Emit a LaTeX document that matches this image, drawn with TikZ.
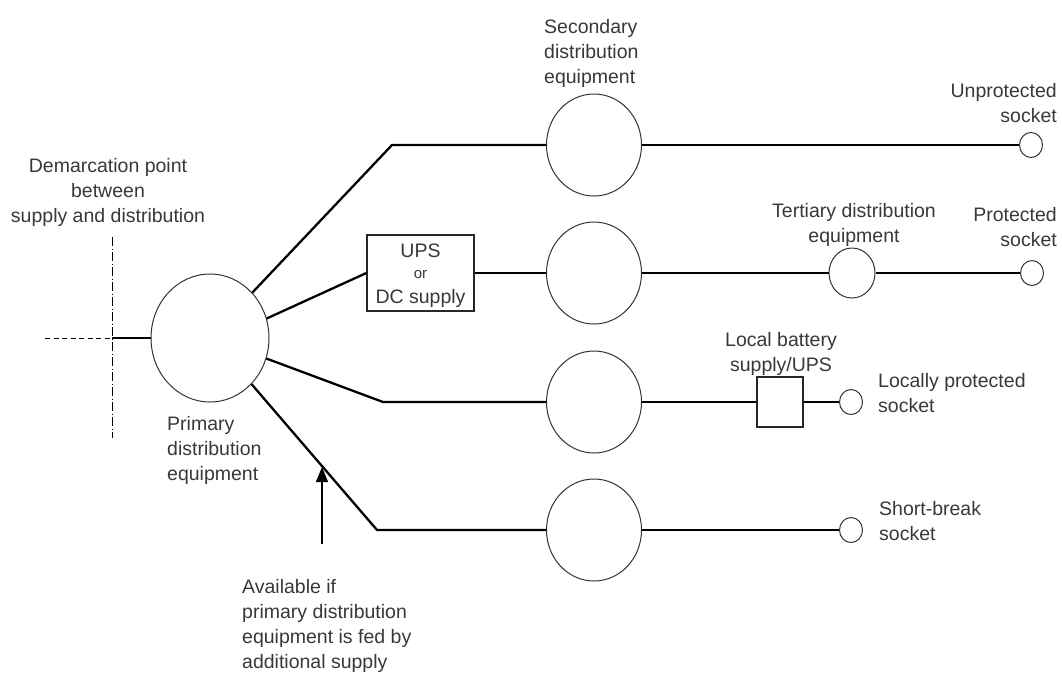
\documentclass[tikz,border=0pt]{standalone}
\usepackage{fontspec}
\setmainfont{Liberation Sans}
\usepackage{tikz}
\usetikzlibrary{shapes.geometric,arrows.meta}
\tikzstyle{wire} = [line width=2.3pt]
\tikzstyle{equip} = [draw=black!80, line width=1pt, ellipse, inner sep=0pt]
\tikzstyle{socket} = [draw=black!80, line width=1pt, ellipse, inner sep=0pt, minimum width=23pt, minimum height=25pt]
\tikzstyle{unit} = [draw=black!85, line width=1.2pt, rectangle, inner sep=0pt]
\tikzstyle{lbl} = [inner sep=0pt, text=black!78, font=\fontsize{19.5}{25}\selectfont]

\begin{document}
\begin{tikzpicture}[x=1pt,y=-1pt]
	\useasboundingbox (0,0) rectangle (1062,673);
	\node[equip, minimum width=118pt, minimum height=128pt] (prim) at (210,338) {};
	\node[equip, minimum width=95pt, minimum height=102pt] (secA) at (594,145) {};
	\node[equip, minimum width=95pt, minimum height=102pt] (secB) at (594,273) {};
	\node[equip, minimum width=95pt, minimum height=102pt] (secC) at (594,402) {};
	\node[equip, minimum width=95pt, minimum height=102pt] (secD) at (594,530) {};
	\node[unit, minimum width=107pt, minimum height=76pt] (ups) at (420.5,273) {};
	\node[unit, minimum width=46pt, minimum height=50pt] (batt) at (780,402) {};
	\node[equip, minimum width=46pt, minimum height=50pt] (tert) at (852,273) {};
	\node[socket] (sockA) at (1031,145) {};
	\node[socket] (sockB) at (1032,273) {};
	\node[socket] (sockC) at (851,402) {};
	\node[socket] (sockD) at (851,530) {};

	\coordinate (feed) at (45,338);
	\coordinate (demarc) at (112,338);
	\coordinate (demtop) at (112,237);
	\coordinate (dembot) at (112,438);
	\coordinate (kinkA) at (392,145);
	\coordinate (kinkC) at (383,402);
	\coordinate (kinkD) at (377,530);
	\coordinate (avfoot) at (322,544);
	\coordinate (avtip) at (322,467);

	\draw[line width=0.8pt, dash pattern=on 5pt off 3.5pt] (feed) -- (demarc);
	\draw[line width=0.8pt, dash pattern=on 9pt off 2.5pt on 1pt off 2.5pt] (demtop) -- (dembot);
	\draw[wire] (demarc) -- (prim.west);
	\draw[wire] (prim.47) -- (kinkA) -- (secA.west);
	\draw[wire] (secA.east) -- (sockA.west);
	\draw[wire] (prim.19) -- (ups.west);
	\draw[wire] (ups.east) -- (secB.west);
	\draw[wire] (secB.east) -- (tert.west);
	\draw[wire] (tert.east) -- (sockB.west);
	\draw[wire] (prim.-20) -- (kinkC) -- (secC.west);
	\draw[wire] (secC.east) -- (batt.west);
	\draw[wire] (batt.east) -- (sockC.west);
	\draw[wire] (prim.-48) -- (kinkD) -- (secD.west);
	\draw[wire] (secD.east) -- (sockD.west);
	\draw[-{Triangle[width=12pt,length=15pt]}, line width=1.3pt] (avfoot) -- (avtip);

	\node[lbl, align=center, yshift=-3pt] (upslbl) at (ups.center) {UPS\\[-4pt]{\fontsize{15}{16}\selectfont or}\\DC supply};
	\node[lbl, anchor=north, align=center] (demlbl) at (108,158) {Demarcation point\\between\\supply and distribution};
	\node[lbl, anchor=north west, align=left] (primlbl) at (167,416) {Primary\\distribution\\equipment};
	\node[lbl, anchor=north west, align=left] (seclbl) at (544,19) {Secondary\\distribution\\equipment};
	\node[lbl, anchor=north east, align=right] (sockAlbl) at (1057,83) {Unprotected\\socket};
	\node[lbl, anchor=north, align=center] (tertlbl) at (854,203) {Tertiary distribution\\equipment};
	\node[lbl, anchor=north east, align=right] (sockBlbl) at (1057,207) {Protected\\socket};
	\node[lbl, anchor=north, align=center] (battlbl) at (781,332) {Local battery\\supply/UPS};
	\node[lbl, anchor=north west, align=left] (sockClbl) at (878,373) {Locally protected\\socket};
	\node[lbl, anchor=north west, align=left] (sockDlbl) at (879,501) {Short-break\\socket};
	\node[lbl, anchor=north west, align=left] (avlbl) at (242,579) {Available if\\primary distribution\\equipment is fed by\\additional supply};
\end{tikzpicture}
\end{document}
